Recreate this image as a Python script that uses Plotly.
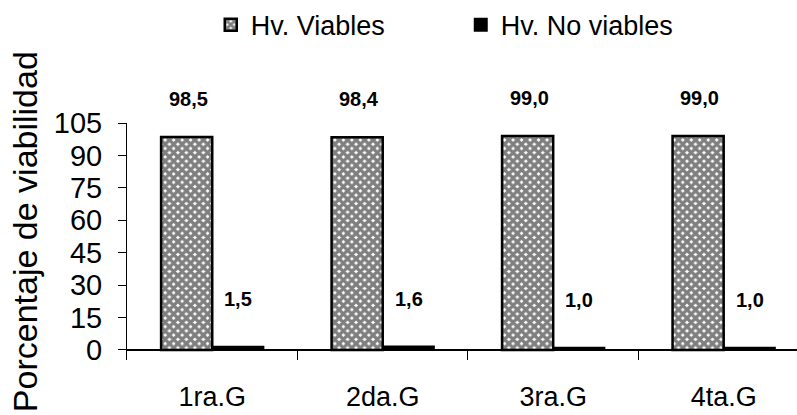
import plotly.graph_objects as go

categories = ["1ra.G", "2da.G", "3ra.G", "4ta.G"]
viables = [98.5, 98.4, 99.0, 99.0]
no_viables = [1.5, 1.6, 1.0, 1.0]
viables_labels = ["98,5", "98,4", "99,0", "99,0"]
no_viables_labels = ["1,5", "1,6", "1,0", "1,0"]
y_ticks = [0, 15, 30, 45, 60, 75, 90, 105]

FONT = "Liberation Sans, Arial"

fig = go.Figure()
fig.add_trace(go.Bar(
    x=categories, y=viables, name="Hv. Viables",
    marker=dict(color="white", line=dict(color="black", width=2.5),
                pattern=dict(shape="x", size=6, solidity=0.8, fgcolor="black", bgcolor="white")),
))
fig.add_trace(go.Bar(
    x=categories, y=no_viables, name="Hv. No viables",
    marker=dict(color="black", line=dict(color="black", width=2)),
))

for c, v, t in zip(categories, viables, viables_labels):
    fig.add_annotation(x=c, y=v, text="<b>%s</b>" % t, showarrow=False,
                       xshift=-24, yshift=25, yanchor="bottom",
                       font=dict(family=FONT, size=20, color="black"))
for c, v, t in zip(categories, no_viables, no_viables_labels):
    fig.add_annotation(x=c, y=v, text="<b>%s</b>" % t, showarrow=False,
                       xshift=26, yshift=35, yanchor="bottom",
                       font=dict(family=FONT, size=20, color="black"))

fig.add_annotation(xref="paper", yref="paper", x=-0.152, y=0.54,
                   text="Porcentaje de viabilidad", textangle=-90, showarrow=False,
                   xanchor="center", yanchor="middle",
                   font=dict(family=FONT, size=34, color="black"))

fig.update_layout(
    width=797, height=415,
    margin=dict(l=127, r=0, t=123, b=55, autoexpand=False),
    paper_bgcolor="white", plot_bgcolor="white",
    barmode="group", bargap=0.4, bargroupgap=0,
    showlegend=True,
    legend=dict(orientation="h", x=0.125, y=1.413, xanchor="left", yanchor="middle",
                font=dict(family=FONT, size=27, color="black"),
                entrywidth=205, entrywidthmode="pixels", itemwidth=30),
    xaxis=dict(type="category", range=[-0.5, 3.43], showline=False,
               ticks="inside", ticklen=10, tickcolor="black", tickson="boundaries",
               tickfont=dict(family=FONT, size=27, color="black"),
               showgrid=False, zeroline=False, ticklabelstandoff=18),
    yaxis=dict(range=[-4.63, 105], tickvals=y_ticks, showline=True, linecolor="black",
               linewidth=1, ticks="outside", ticklen=8, tickcolor="black",
               showgrid=False, zeroline=True, zerolinecolor="black", zerolinewidth=1.5,
               tickfont=dict(family=FONT, size=29, color="black"),
               ticklabelstandoff=10),
)

fig.write_html("out.html")
